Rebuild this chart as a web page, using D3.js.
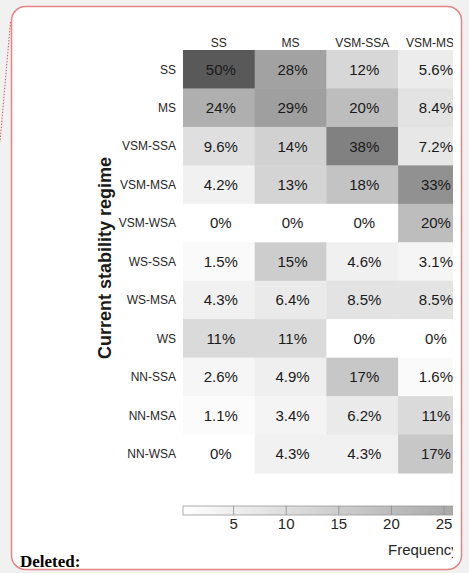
<!DOCTYPE html>
<html>
<head>
<meta charset="utf-8">
<script src="https://cdn.jsdelivr.net/npm/d3@7"></script>
<style>
  html, body { margin: 0; padding: 0; background: #f1f1f1; }
  svg { display: block; }
</style>
</head>
<body>
<svg id="chart" width="469" height="573"></svg>
<script>
// ---- data ----
const rowLabels = ["SS", "MS", "VSM-SSA", "VSM-MSA", "VSM-WSA", "WS-SSA", "WS-MSA", "WS", "NN-SSA", "NN-MSA", "NN-WSA"];
const colLabels = ["SS", "MS", "VSM-SSA", "VSM-MSA"];
const valSS     = [50, 24, 9.6, 4.2, 0, 1.5, 4.3, 11, 2.6, 1.1, 0];
const valMS     = [28, 29, 14, 13, 0, 15, 6.4, 11, 4.9, 3.4, 4.3];
const valVSMSSA = [12, 20, 38, 18, 0, 4.6, 8.5, 0, 17, 6.2, 4.3];
const valVSMMSA = [5.6, 8.4, 7.2, 33, 20, 3.1, 8.5, 0, 1.6, 11, 17];
const colorTicks = [5, 10, 15, 20, 25];
const yTitle = "Current stability regime";
const cbTitle = "Frequency (%)";

const columns = [valSS, valMS, valVSMSSA, valVSMMSA];
const cells = [];
columns.forEach((vals, ci) => vals.forEach((v, ri) => cells.push({ row: rowLabels[ri], col: colLabels[ci], v })));

const svg = d3.select("#chart");
const font = "'Liberation Sans', Arial, Helvetica, sans-serif";

// comment box
svg.append("rect").attr("x", 11.5).attr("y", 6.5).attr("width", 450).attr("height", 563)
  .attr("rx", 14).attr("fill", "#fff").attr("stroke", "#e58585").attr("stroke-width", 1.5);
svg.append("line").attr("x1", 10.5).attr("y1", 22).attr("x2", 0).attr("y2", 142)
  .attr("stroke", "#d9545c").attr("stroke-width", 1).attr("stroke-dasharray", "1.5,1.5");
svg.append("text").attr("x", 20).attr("y", 567).text("Deleted:")
  .attr("font-family", "'Liberation Serif', 'Times New Roman', serif").attr("font-weight", "bold")
  .attr("font-size", 17).attr("fill", "#000");

// clip for chart content
svg.append("defs").append("clipPath").attr("id", "clip")
  .append("rect").attr("x", 0).attr("y", 0).attr("width", 453).attr("height", 573);
const g = svg.append("g").attr("clip-path", "url(#clip)");

// scales
const colW = 71.7;
const x = d3.scaleBand().domain(colLabels).range([183, 183 + colW * colLabels.length]);
const y = d3.scaleBand().domain(rowLabels).range([50, 473]);
const gray = v => { const c = Math.round(255 - v * (255 - 89) / 50); return d3.rgb(c, c, c); };
const color = d3.scaleLinear().domain([0, 50]).range([gray(0), gray(50)]);

// cells
g.selectAll("rect.cell").data(cells).join("rect").attr("class", "cell")
  .attr("x", d => x(d.col)).attr("y", d => y(d.row))
  .attr("width", x.bandwidth() + 0.5).attr("height", y.bandwidth() + 0.5)
  .attr("fill", d => color(d.v));

g.selectAll("text.val").data(cells).join("text").attr("class", "val")
  .attr("x", d => x(d.col) + x.bandwidth() / 2 + 2).attr("y", d => y(d.row) + y.bandwidth() / 2)
  .attr("dy", "0.36em").attr("text-anchor", "middle")
  .attr("font-family", font).attr("font-size", 15).attr("fill", "#1a1a1a")
  .text(d => d.v + "%");

// axes labels
g.selectAll("text.rowlab").data(rowLabels).join("text").attr("class", "rowlab")
  .attr("x", 176).attr("y", d => y(d) + y.bandwidth() / 2).attr("dy", "0.36em")
  .attr("text-anchor", "end").attr("font-family", font).attr("font-size", 12).attr("fill", "#262626")
  .text(d => d);
g.selectAll("text.collab").data(colLabels).join("text").attr("class", "collab")
  .attr("x", d => x(d) + x.bandwidth() / 2).attr("y", 47)
  .attr("text-anchor", "middle").attr("font-family", font).attr("font-size", 12).attr("fill", "#262626")
  .text(d => d);
g.append("text").attr("transform", "translate(111,258) rotate(-90)")
  .attr("text-anchor", "middle").attr("font-family", font).attr("font-weight", "bold")
  .attr("font-size", 18).attr("fill", "#1a1a1a").text(yTitle);

// colorbar
const cb = d3.scaleLinear().domain([0, 50]).range([181, 181 + 526]);
const grad = svg.select("defs").append("linearGradient").attr("id", "cbgrad")
  .attr("gradientUnits", "userSpaceOnUse").attr("x1", cb(0)).attr("x2", cb(50)).attr("y1", 0).attr("y2", 0);
grad.append("stop").attr("offset", "0%").attr("stop-color", color(0));
grad.append("stop").attr("offset", "100%").attr("stop-color", color(50));
const cbTop = 506, cbH = 9;
g.append("rect").attr("x", cb(0) + 2).attr("y", cbTop).attr("width", cb(50) - cb(0)).attr("height", cbH)
  .attr("fill", "url(#cbgrad)").attr("stroke", "#9a9a9a").attr("stroke-width", 0.8);
g.selectAll("line.cbtick").data(colorTicks).join("line").attr("class", "cbtick")
  .attr("x1", d => cb(d)).attr("x2", d => cb(d)).attr("y1", cbTop).attr("y2", cbTop + cbH)
  .attr("stroke", "#8c8c8c").attr("stroke-width", 0.8);
g.selectAll("text.cbl").data(colorTicks).join("text").attr("class", "cbl")
  .attr("x", d => cb(d)).attr("y", 529).attr("text-anchor", "middle")
  .attr("font-family", font).attr("font-size", 15).attr("fill", "#262626").text(d => d);
g.append("text").attr("x", 388).attr("y", 555).attr("font-family", font).attr("font-size", 15)
  .attr("fill", "#262626").text(cbTitle);
</script>
</body>
</html>
